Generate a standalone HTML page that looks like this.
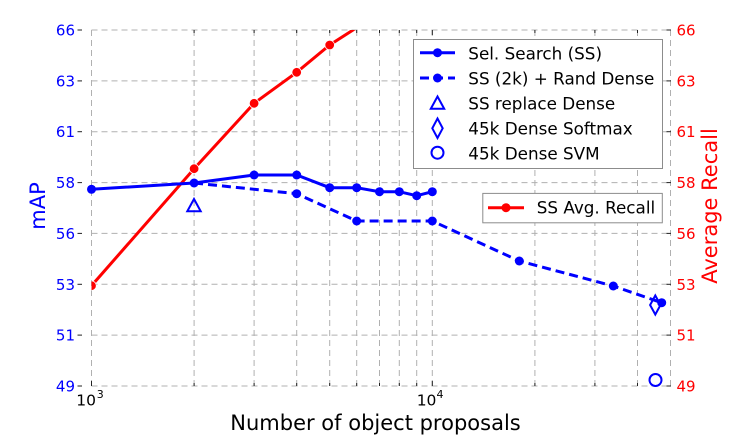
<!DOCTYPE html>
<html><head><meta charset="utf-8"><style>
html,body{margin:0;padding:0;background:#fff;}
svg{display:block;font-family:"DejaVu Sans","Liberation Sans",sans-serif;}
</style></head><body>
<svg width="738" height="441" viewBox="0 0 738 441" xmlns="http://www.w3.org/2000/svg">
<defs><clipPath id="c"><rect x="91.5" y="30" width="579" height="356"/></clipPath></defs>
<rect width="738" height="441" fill="#fff"/>
<g stroke="#b0b0b0" stroke-width="1" stroke-dasharray="6,4" fill="none">
<line x1="91.5" y1="30" x2="670.5" y2="30"/>
<line x1="91.5" y1="80.9" x2="670.5" y2="80.9"/>
<line x1="91.5" y1="131.7" x2="670.5" y2="131.7"/>
<line x1="91.5" y1="182.6" x2="670.5" y2="182.6"/>
<line x1="91.5" y1="233.4" x2="670.5" y2="233.4"/>
<line x1="91.5" y1="284.3" x2="670.5" y2="284.3"/>
<line x1="91.5" y1="335.1" x2="670.5" y2="335.1"/>
<line x1="91.5" y1="386" x2="670.5" y2="386"/>
<line x1="91.5" y1="30" x2="91.5" y2="386"/>
<line x1="194.1" y1="30" x2="194.1" y2="386"/>
<line x1="254.1" y1="30" x2="254.1" y2="386"/>
<line x1="296.7" y1="30" x2="296.7" y2="386"/>
<line x1="329.7" y1="30" x2="329.7" y2="386"/>
<line x1="356.7" y1="30" x2="356.7" y2="386"/>
<line x1="379.5" y1="30" x2="379.5" y2="386"/>
<line x1="399.3" y1="30" x2="399.3" y2="386"/>
<line x1="416.7" y1="30" x2="416.7" y2="386"/>
<line x1="432.3" y1="30" x2="432.3" y2="386"/>
<line x1="534.9" y1="30" x2="534.9" y2="386"/>
<line x1="594.9" y1="30" x2="594.9" y2="386"/>
<line x1="637.5" y1="30" x2="637.5" y2="386"/>
<line x1="670.5" y1="30" x2="670.5" y2="386"/>
</g>
<!-- ticks -->
<g stroke="#222" stroke-width="1">
<line x1="77.5" y1="30" x2="82" y2="30"/><line x1="77.5" y1="80.9" x2="82" y2="80.9"/><line x1="77.5" y1="131.7" x2="82" y2="131.7"/><line x1="77.5" y1="182.6" x2="82" y2="182.6"/><line x1="77.5" y1="233.4" x2="82" y2="233.4"/><line x1="77.5" y1="284.3" x2="82" y2="284.3"/><line x1="77.5" y1="335.1" x2="82" y2="335.1"/><line x1="77.5" y1="386" x2="82" y2="386"/>
<line x1="666.5" y1="30" x2="671" y2="30"/><line x1="666.5" y1="80.9" x2="671" y2="80.9"/><line x1="666.5" y1="131.7" x2="671" y2="131.7"/><line x1="666.5" y1="182.6" x2="671" y2="182.6"/><line x1="666.5" y1="233.4" x2="671" y2="233.4"/><line x1="666.5" y1="284.3" x2="671" y2="284.3"/><line x1="666.5" y1="335.1" x2="671" y2="335.1"/><line x1="666.5" y1="386" x2="671" y2="386"/>
<line x1="91.5" y1="381" x2="91.5" y2="386"/><line x1="432.3" y1="381" x2="432.3" y2="386"/>
<line x1="194.1" y1="383" x2="194.1" y2="386"/><line x1="254.1" y1="383" x2="254.1" y2="386"/><line x1="296.7" y1="383" x2="296.7" y2="386"/><line x1="329.7" y1="383" x2="329.7" y2="386"/><line x1="356.7" y1="383" x2="356.7" y2="386"/><line x1="379.5" y1="383" x2="379.5" y2="386"/><line x1="399.3" y1="383" x2="399.3" y2="386"/><line x1="416.7" y1="383" x2="416.7" y2="386"/><line x1="534.9" y1="383" x2="534.9" y2="386"/><line x1="594.9" y1="383" x2="594.9" y2="386"/><line x1="637.5" y1="383" x2="637.5" y2="386"/>
<line x1="194.1" y1="30" x2="194.1" y2="33"/><line x1="254.1" y1="30" x2="254.1" y2="33"/><line x1="296.7" y1="30" x2="296.7" y2="33"/><line x1="329.7" y1="30" x2="329.7" y2="33"/><line x1="356.7" y1="30" x2="356.7" y2="33"/><line x1="379.5" y1="30" x2="379.5" y2="33"/><line x1="399.3" y1="30" x2="399.3" y2="33"/><line x1="416.7" y1="30" x2="416.7" y2="33"/><line x1="432.3" y1="30" x2="432.3" y2="35"/><line x1="534.9" y1="30" x2="534.9" y2="33"/><line x1="594.9" y1="30" x2="594.9" y2="33"/><line x1="637.5" y1="30" x2="637.5" y2="33"/>
</g>
<!-- tick labels -->
<g fill="#0000ff" font-size="15" text-anchor="end">
<text x="75" y="35.5">66</text><text x="75" y="86.4">63</text><text x="75" y="137.2">61</text><text x="75" y="188.1">58</text><text x="75" y="238.9">56</text><text x="75" y="289.8">53</text><text x="75" y="340.6">51</text><text x="75" y="391.5">49</text>
</g>
<g fill="#ff0000" font-size="15">
<text x="676.5" y="35.5">66</text><text x="676.5" y="86.4">63</text><text x="676.5" y="137.2">61</text><text x="676.5" y="188.1">58</text><text x="676.5" y="238.9">56</text><text x="676.5" y="289.8">53</text><text x="676.5" y="340.6">51</text><text x="676.5" y="391.5">49</text>
</g>
<g fill="#000" font-size="15.5">
<text x="76.3" y="405.7">10</text><text x="96.7" y="398" font-size="11">3</text>
<text x="416.7" y="405.7">10</text><text x="436.5" y="398" font-size="11">4</text>
</g>
<text x="375.5" y="430" font-size="21" text-anchor="middle" fill="#000">Number of object proposals</text>
<text transform="translate(45,206) rotate(-90)" font-size="21" text-anchor="middle" fill="#0000ff">mAP</text>
<text transform="translate(717,206) rotate(-90)" font-size="21" text-anchor="middle" fill="#ff0000">Average Recall</text>
<!-- data -->
<g clip-path="url(#c)">
<polyline points="91.5,285.7 194.1,168.7 254.1,103.3 296.7,72.3 329.7,45 353,30 357,27" fill="none" stroke="#ff0000" stroke-width="3"/>
<g fill="#ff0000" stroke="#fff" stroke-width="0.8">
<circle cx="91.5" cy="285.7" r="4.8"/><circle cx="194.1" cy="168.7" r="4.8"/><circle cx="254.1" cy="103.3" r="4.8"/><circle cx="296.7" cy="72.3" r="4.8"/><circle cx="329.7" cy="45" r="4.8"/>
</g>
</g>
<polyline points="194.1,183 296.7,193.7 356.7,221 432.3,221 519.3,261 613.3,286 661.7,302.7" fill="none" stroke="#0000ff" stroke-width="3" stroke-dasharray="9,5"/>
<polyline points="91.5,189.3 194.1,183 254.1,175 296.7,175 329.7,187.7 356.7,187.7 379.5,191.7 399.3,191.7 416.7,195.7 432.3,191.7" fill="none" stroke="#0000ff" stroke-width="3"/>
<g fill="#0000ff">
<circle cx="91.5" cy="189.3" r="4.5"/><circle cx="194.1" cy="183" r="4.5"/><circle cx="254.1" cy="175" r="4.5"/><circle cx="296.7" cy="175" r="4.5"/><circle cx="329.7" cy="187.7" r="4.5"/><circle cx="356.7" cy="187.7" r="4.5"/><circle cx="379.5" cy="191.7" r="4.5"/><circle cx="399.3" cy="191.7" r="4.5"/><circle cx="416.7" cy="195.7" r="4.5"/><circle cx="432.3" cy="191.7" r="4.5"/>
<circle cx="296.7" cy="193.7" r="4.5"/><circle cx="356.7" cy="221" r="4.5"/><circle cx="432.3" cy="221" r="4.5"/><circle cx="519.3" cy="261" r="4.5"/><circle cx="613.3" cy="286" r="4.5"/><circle cx="661.7" cy="302.7" r="4.5"/>
</g>
<g fill="none" stroke="#0000ff" stroke-width="2">
<polygon points="194,199 187.3,211.3 200.7,211.3"/>
<polygon points="655.3,295.5 660.5,305 655.3,314.5 650.1,305"/>
<circle cx="655.5" cy="380" r="6"/>
</g>
<!-- legend 1 -->
<rect x="413.5" y="39.5" width="249" height="129" fill="#fff" stroke="#8c8c8c" stroke-width="1"/>
<line x1="420" y1="52.7" x2="455" y2="52.7" stroke="#0000ff" stroke-width="3"/>
<circle cx="437.5" cy="52.7" r="4.5" fill="#0000ff"/>
<line x1="420" y1="78" x2="455" y2="78" stroke="#0000ff" stroke-width="3" stroke-dasharray="9,5"/>
<circle cx="437.5" cy="78" r="4.5" fill="#0000ff"/>
<g fill="none" stroke="#0000ff" stroke-width="2">
<polygon points="437.5,96.5 430.8,108.8 444.2,108.8"/>
<polygon points="437.5,118.5 442.7,128.3 437.5,138 432.3,128.3"/>
<circle cx="437.5" cy="152.7" r="6"/>
</g>
<g font-size="16.8" fill="#000">
<text x="468.3" y="59.3">Sel. Search (SS)</text>
<text x="468.3" y="84.4">SS (2k) + Rand Dense</text>
<text x="468.3" y="109.5">SS replace Dense</text>
<text x="468.3" y="134.5">45k Dense Softmax</text>
<text x="468.3" y="159.3">45k Dense SVM</text>
</g>
<!-- legend 2 -->
<rect x="482.8" y="193.4" width="179.5" height="29.4" fill="#fff" stroke="#8c8c8c" stroke-width="1"/>
<line x1="488" y1="207.7" x2="524" y2="207.7" stroke="#ff0000" stroke-width="3"/>
<circle cx="506" cy="207.7" r="4.5" fill="#ff0000"/>
<text x="536.7" y="213.6" font-size="16.8" fill="#000">SS Avg. Recall</text>
</svg>
</body></html>
